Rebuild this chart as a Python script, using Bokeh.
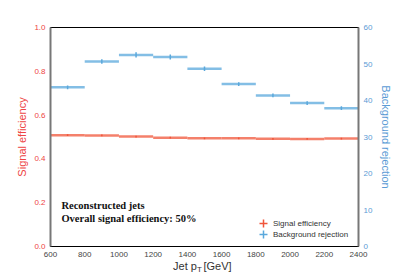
from bokeh.plotting import figure
from bokeh.models import Range1d, LinearAxis, Label, Legend, LegendItem, FixedTicker, PrintfTickFormatter
from bokeh.embed import file_html
from bokeh.resources import INLINE

# Data
bin_low = [600, 800, 1000, 1200, 1400, 1600, 1800, 2000, 2200]
bin_high = [800, 1000, 1200, 1400, 1600, 1800, 2000, 2200, 2400]
sig_eff = [0.508, 0.507, 0.502, 0.497, 0.494, 0.494, 0.492, 0.491, 0.493]
sig_err = [0.004, 0.004, 0.004, 0.004, 0.004, 0.004, 0.004, 0.004, 0.004]
bkg_rej = [43.6, 50.7, 52.5, 51.9, 48.7, 44.5, 41.4, 39.3, 37.9]
bkg_err = [0.5, 0.6, 0.7, 0.7, 0.6, 0.5, 0.5, 0.5, 0.5]
x_ticks = [600, 800, 1000, 1200, 1400, 1600, 1800, 2000, 2200, 2400]
left_ticks = [0.0, 0.2, 0.4, 0.6, 0.8, 1.0]
right_ticks = [0, 10, 20, 30, 40, 50, 60]
xlabel_main = {1386: "Jet p", 1576: "[GeV]"}
xlabel_sub = {1471: "T"}
legend_labels = ["Signal efficiency", "Background rejection"]

RED = "#f0553a"
RED_TXT = "#ee4444"
BLUE = "#5aa8dc"
BLUE_TXT = "#5b9bd5"

centers = [(a + b) / 2 for a, b in zip(bin_low, bin_high)]

p = figure(frame_width=308, frame_height=219, output_backend="svg", toolbar_location=None,
           x_range=Range1d(600, 2400), y_range=Range1d(0, 1.0),
           min_border_left=50, min_border_right=38, min_border_top=27, min_border_bottom=0)
p.extra_y_ranges = {"rej": Range1d(0, 60)}
p.xgrid.visible = False
p.ygrid.visible = False
p.outline_line_color = "black"
p.outline_line_width = 1
p.background_fill_color = "white"
p.border_fill_color = "white"


def clean(ax):
    ax.major_tick_line_color = None
    ax.minor_tick_line_color = None
    ax.major_tick_out = 0
    ax.major_tick_in = 0
    ax.minor_tick_out = 0
    ax.minor_tick_in = 0


# X axis
xa = p.xaxis[0]
clean(xa)
xa.ticker = FixedTicker(ticks=x_ticks)
xa.axis_line_color = "black"
xa.major_label_text_font = "Liberation Sans"
xa.major_label_text_font_size = "8px"
xa.major_label_text_color = "#444444"
xa.major_label_standoff = 5

# X axis label as extra tick-label-only axes (to allow the subscript T)
xl = LinearAxis(ticker=FixedTicker(ticks=list(xlabel_main.keys())),
                major_label_overrides=xlabel_main)
clean(xl)
xl.axis_line_color = None
xl.major_label_text_font = "Liberation Sans"
xl.major_label_text_font_size = "11px"
xl.major_label_text_color = "#333333"
xl.major_label_standoff = 0
p.add_layout(xl, "below")

xs = LinearAxis(ticker=FixedTicker(ticks=list(xlabel_sub.keys())),
                major_label_overrides=xlabel_sub)
clean(xs)
xs.axis_line_color = None
xs.major_label_text_font = "Liberation Sans"
xs.major_label_text_font_size = "8px"
xs.major_label_text_color = "#333333"
xs.major_label_standoff = -10
p.add_layout(xs, "below")

# Left Y
ya = p.yaxis[0]
clean(ya)
ya.ticker = FixedTicker(ticks=left_ticks)
ya.formatter = PrintfTickFormatter(format="%.1f")
ya.axis_line_color = "#777777"
ya.axis_line_width = 2
ya.major_label_text_font = "Liberation Sans"
ya.major_label_text_font_size = "8px"
ya.major_label_text_color = RED_TXT
ya.major_label_standoff = 5
ya.axis_label = "Signal efficiency"
ya.axis_label_text_color = RED_TXT
ya.axis_label_text_font = "Liberation Sans"
ya.axis_label_text_font_style = "normal"
ya.axis_label_text_font_size = "11px"
ya.axis_label_standoff = 3

# Right Y
ra = LinearAxis(y_range_name="rej", ticker=FixedTicker(ticks=right_ticks))
clean(ra)
ra.axis_line_color = "#777777"
ra.axis_line_width = 2
ra.major_label_text_font = "Liberation Sans"
ra.major_label_text_font_size = "8px"
ra.major_label_text_color = BLUE_TXT
ra.major_label_standoff = 5
ra.axis_label = "Background rejection"
ra.axis_label_text_color = BLUE_TXT
ra.axis_label_text_font = "Liberation Sans"
ra.axis_label_text_font_style = "normal"
ra.axis_label_text_font_size = "11px"
ra.axis_label_standoff = 5
p.add_layout(ra, "right")

# Signal efficiency
p.segment(x0=bin_low, x1=bin_high, y0=sig_eff, y1=sig_eff, line_color=RED, line_width=2.5, line_alpha=0.75)
p.segment(x0=centers, x1=centers, y0=[v - e for v, e in zip(sig_eff, sig_err)],
          y1=[v + e for v, e in zip(sig_eff, sig_err)], line_color=RED, line_width=1.5)

# Background rejection
p.segment(x0=bin_low, x1=bin_high, y0=bkg_rej, y1=bkg_rej, line_color=BLUE, line_width=2.5, line_alpha=0.75,
          y_range_name="rej")
p.segment(x0=centers, x1=centers, y0=[v - e for v, e in zip(bkg_rej, bkg_err)],
          y1=[v + e for v, e in zip(bkg_rej, bkg_err)], line_color=BLUE, line_width=1.5, y_range_name="rej")

# Legend proxies (placed outside the visible range), one legend per entry for tight rows
r1 = p.scatter(x=[-1000], y=[-1], marker="cross", size=9, line_width=1.5, line_color=RED)
r2 = p.scatter(x=[-1000], y=[-1], marker="cross", size=9, line_width=1.5, line_color=BLUE)
for rend, lab, loc in [(r1, legend_labels[0], (203, 13)), (r2, legend_labels[1], (203, 2))]:
    lg = Legend(items=[LegendItem(label=lab, renderers=[rend])],
                location=loc, border_line_color=None, background_fill_alpha=0,
                label_text_font="Liberation Sans", label_text_font_size="8px", label_text_color="#333333",
                glyph_width=20, glyph_height=20, label_height=20, spacing=0, padding=0, margin=0,
                label_standoff=0)
    p.add_layout(lg)

# Text annotations
p.add_layout(Label(x=664, y=0.212, text="Reconstructed jets", text_font="Liberation Serif",
                   text_font_style="bold", text_font_size="10.5px", text_baseline="top", text_color="#111111"))
p.add_layout(Label(x=664, y=0.152, text="Overall signal efficiency: 50%", text_font="Liberation Serif",
                   text_font_style="bold", text_font_size="10.5px", text_baseline="top", text_color="#111111"))

open("out.html", "w").write(file_html(p, INLINE))
